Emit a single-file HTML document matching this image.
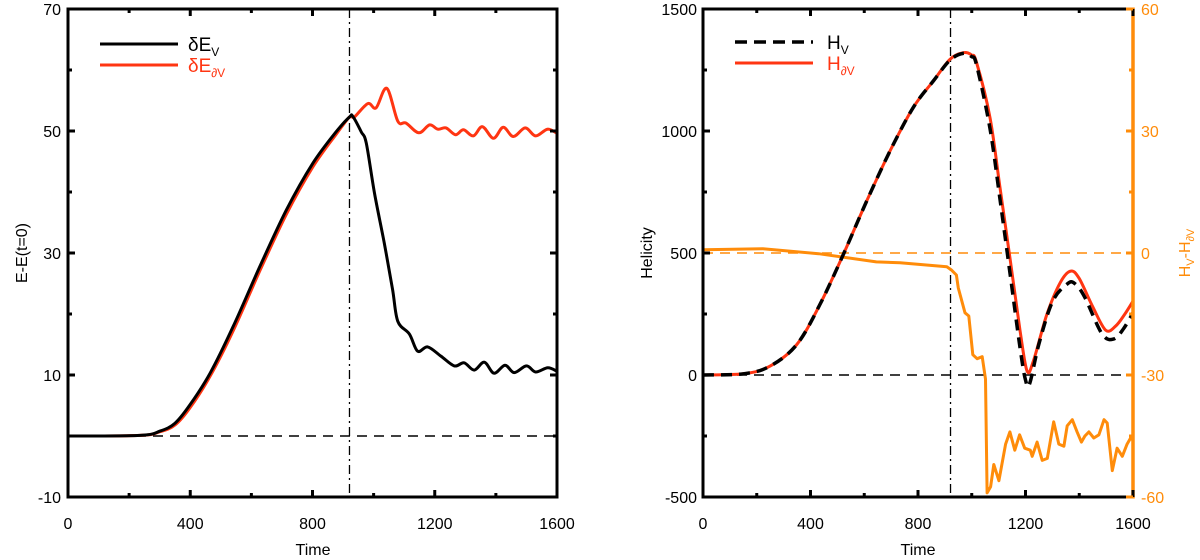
<!DOCTYPE html>
<html>
<head>
<meta charset="utf-8">
<style>
  html,body{margin:0;padding:0;background:#fff;}
  svg{display:block;font-family:"Liberation Sans",Arial,sans-serif;}
</style>
</head>
<body>
<svg id="chart" width="1200" height="560" viewBox="0 0 1200 560"></svg>
<script>
// ---------- Left panel data ----------
const energyTimesV = [0,235,301,350,399,465,540,627,714,801,878,921,932,959,976,1003,1035,1062,1079,1117,1144,1177,1220,1264,1296,1329,1362,1394,1430,1460,1500,1530,1570,1600];
const energyV      = [0,0.1,0.8,2.1,5.1,10.3,17.9,27.7,37.0,44.7,49.9,52.3,52.4,49.9,48,39.8,31.6,24,18.8,16.7,13.9,14.6,13.1,11.5,12,10.8,12.1,10.3,11.6,10.4,11.5,10.5,11.2,10.6];
const energyTimesDV = [0,235,301,350,399,465,540,627,714,801,878,921,937,981,1008,1043,1079,1106,1148,1183,1210,1237,1268,1294,1326,1356,1392,1424,1457,1496,1530,1569,1600];
const energyDV      = [0,0.1,0.7,1.8,4.6,9.8,17.2,27.0,36.3,44.1,49.5,52.3,52.3,54.5,53.8,57.0,51.6,51.3,49.7,51,50.3,50.5,49.4,50.2,49.2,50.7,48.8,50.6,49.1,50.5,49.2,50.3,49.6];
const leftYTicks = [-10,10,30,50,70];
const xTicks = [0,400,800,1200,1600];
const eventTime = 921;

// ---------- Right panel data ----------
const helTimesV = [0,150,249,349,435,522,609,696,782,857,919,968,999,1018,1068,1105,1142,1180,1200,1215,1250,1300,1355,1383,1420,1485,1529,1565,1600];
const helV      = [0,5,36,125,289,494,713,918,1096,1205,1290,1318,1305,1270,1010,720,420,110,-20,-37,127,300,373,375,320,168,148,190,255];
const helTimesDV = [0,150,249,349,435,522,609,696,782,857,919,968,999,1018,1068,1105,1142,1180,1206,1230,1280,1330,1368,1400,1450,1498,1535,1570,1600];
const helDV      = [0,5,36,125,289,494,713,918,1096,1205,1294,1321,1312,1280,1055,768,481,180,16,60,250,380,426,395,280,184,200,250,303];
const diffTimes = [0,223,430,645,733,907,923,943,950,975,989,1004,1020,1039,1051,1057,1070,1082,1101,1126,1142,1160,1178,1197,1218,1225,1243,1262,1281,1305,1324,1343,1355,1374,1392,1408,1421,1436,1454,1473,1492,1504,1523,1541,1560,1578,1591,1600];
const diffValues = [0.8,1.05,-0.16,-2.2,-2.4,-3.4,-4.1,-5.4,-8.6,-14.7,-15.5,-25,-26,-25.5,-31,-59,-57.5,-52,-56,-47,-44,-48.5,-44.7,-48,-48.5,-50,-46.5,-51,-50.5,-41.5,-47,-47.5,-42.5,-41,-44,-46.5,-45,-44,-45.5,-44.7,-41,-41.8,-53.5,-48,-50,-47,-45.5,-46];
const helYTicks = [-500,0,500,1000,1500];
const diffYTicks = [-60,-30,0,30,60];

const NS = "http://www.w3.org/2000/svg";
const svg = document.getElementById("chart");
function mk(tag, attrs, parent){
  const e = document.createElementNS(NS, tag);
  for (const k in attrs) e.setAttribute(k, attrs[k]);
  (parent||svg).appendChild(e);
  return e;
}
const RED = "#ff3512", ORANGE = "#ff8c0a";

const L = {x0:68, x1:557, y0:9, y1:497};
const lx = t => L.x0 + (t/1600)*(L.x1-L.x0);
const ly = v => L.y1 - ((v+10)/80)*(L.y1-L.y0);
const R = {x0:703, x1:1133, y0:9, y1:497};
const rx = t => R.x0 + (t/1600)*(R.x1-R.x0);
const ry = v => R.y1 - ((v+500)/2000)*(R.y1-R.y0);
const ry2 = v => R.y1 - ((v+60)/120)*(R.y1-R.y0);

function pathFrom(ts, vs, fx, fy){
  return ts.map((t,i)=>(i?"L":"M")+fx(t).toFixed(1)+","+fy(vs[i]).toFixed(1)).join(" ");
}
function smoothPath(ts, vs, fx, fy){
  const p = ts.map((t,i)=>[fx(t), fy(vs[i])]);
  let d = "M"+p[0][0].toFixed(1)+","+p[0][1].toFixed(1);
  for (let i=0;i<p.length-1;i++){
    const p0 = p[i-1]||p[i], p1=p[i], p2=p[i+1], p3=p[i+2]||p2;
    const c1 = [p1[0]+(p2[0]-p0[0])/6, p1[1]+(p2[1]-p0[1])/6];
    const c2 = [p2[0]-(p3[0]-p1[0])/6, p2[1]-(p3[1]-p1[1])/6];
    d += " C"+c1.map(v=>v.toFixed(1)).join(",")+" "+c2.map(v=>v.toFixed(1)).join(",")+" "+p2.map(v=>v.toFixed(1)).join(",");
  }
  return d;
}

// ===== LEFT PANEL =====
const gL = mk("g", {});



let e = mk("line", {x1:L.x0, x2:L.x1, y1:ly(0), y2:ly(0), stroke:"#000", "stroke-width":1.5, "stroke-dasharray":"10,7"}, gL);


e = mk("line", {x1:lx(eventTime), x2:lx(eventTime), y1:L.y0, y2:L.y1, stroke:"#000", "stroke-width":1.3, "stroke-dasharray":"9,4,2,4"}, gL);



e = mk("path", {d:smoothPath(energyTimesDV, energyDV, lx, ly), fill:"none", stroke:RED, "stroke-width":3, "stroke-linejoin":"round"}, gL);


e = mk("path", {d:smoothPath(energyTimesV, energyV, lx, ly), fill:"none", stroke:"#000", "stroke-width":3, "stroke-linejoin":"round"}, gL);



e = mk("rect", {x:L.x0, y:L.y0, width:L.x1-L.x0, height:L.y1-L.y0, fill:"none", stroke:"#000", "stroke-width":3}, gL);


for (let t=0; t<=1600; t+=200){
  const len = (t%400===0)?7:4;
  mk("line",{x1:lx(t),x2:lx(t),y1:L.y1,y2:L.y1-len,stroke:"#000","stroke-width":3},gL);
  mk("line",{x1:lx(t),x2:lx(t),y1:L.y0,y2:L.y0+len,stroke:"#000","stroke-width":3},gL);
}
xTicks.forEach(t=>{
  const tx = mk("text",{x:lx(t),y:529,"text-anchor":"middle","font-size":16,fill:"#000"},gL);
  tx.textContent = t;
  
  
});
for (let v=-10; v<=70; v+=10){
  const len = ((v+10)%20===0)?7:4;
  mk("line",{x1:L.x0,x2:L.x0+len,y1:ly(v),y2:ly(v),stroke:"#000","stroke-width":3},gL);
  mk("line",{x1:L.x1,x2:L.x1-len,y1:ly(v),y2:ly(v),stroke:"#000","stroke-width":3},gL);
}
leftYTicks.forEach(v=>{
  const tx = mk("text",{x:61,y:ly(v)+6,"text-anchor":"end","font-size":16,fill:"#000"},gL);
  tx.textContent = v;
  
  
});
e = mk("text",{x:313,y:555,"text-anchor":"middle","font-size":16},gL);
e.textContent = "Time";


e = mk("text",{x:0,y:0,"text-anchor":"middle","font-size":16,transform:"translate(27,253) rotate(-90)"},gL);
e.textContent = "E-E(t=0)";



const lgL = mk("g",{},gL);


mk("line",{x1:100,x2:178,y1:44,y2:44,stroke:"#000","stroke-width":3},lgL);
e = mk("text",{x:188,y:51,"font-size":19,fill:"#000"},lgL);
e.innerHTML = 'δE<tspan font-size="12" dy="5">V</tspan>';


mk("line",{x1:100,x2:178,y1:65,y2:65,stroke:RED,"stroke-width":3},lgL);
e = mk("text",{x:188,y:72,"font-size":19,fill:RED},lgL);
e.innerHTML = 'δE<tspan font-size="12" dy="5">∂V</tspan>';



// ===== RIGHT PANEL =====
const gR = mk("g", {});



e = mk("line",{x1:R.x0,x2:R.x1,y1:ry(0),y2:ry(0),stroke:"#000","stroke-width":1.5,"stroke-dasharray":"10,7"},gR);


e = mk("line",{x1:R.x0,x2:R.x1,y1:ry2(0),y2:ry2(0),stroke:ORANGE,"stroke-width":1.5,"stroke-dasharray":"10,7"},gR);


e = mk("line",{x1:rx(eventTime),x2:rx(eventTime),y1:R.y0,y2:R.y1,stroke:"#000","stroke-width":1.3,"stroke-dasharray":"9,4,2,4"},gR);



e = mk("path",{d:pathFrom(diffTimes, diffValues, rx, ry2),fill:"none",stroke:ORANGE,"stroke-width":3,"stroke-linejoin":"round"},gR);


e = mk("path",{d:smoothPath(helTimesDV, helDV, rx, ry),fill:"none",stroke:RED,"stroke-width":3,"stroke-linejoin":"round"},gR);


e = mk("path",{d:smoothPath(helTimesV, helV, rx, ry),fill:"none",stroke:"#000","stroke-width":3.5,"stroke-dasharray":"11,7","stroke-linejoin":"round"},gR);



mk("line",{x1:R.x0,x2:R.x1,y1:R.y0,y2:R.y0,stroke:"#000","stroke-width":3},gR);
mk("line",{x1:R.x0,x2:R.x1,y1:R.y1,y2:R.y1,stroke:"#000","stroke-width":3},gR);
mk("line",{x1:R.x0,x2:R.x0,y1:R.y0-1.5,y2:R.y1+1.5,stroke:"#000","stroke-width":3},gR);
e = mk("line",{x1:R.x1,x2:R.x1,y1:R.y0-1.5,y2:R.y1+1.5,stroke:ORANGE,"stroke-width":3.5},gR);


for (let t=0; t<=1600; t+=200){
  const len = (t%400===0)?7:4;
  mk("line",{x1:rx(t),x2:rx(t),y1:R.y1,y2:R.y1-len,stroke:"#000","stroke-width":3},gR);
  mk("line",{x1:rx(t),x2:rx(t),y1:R.y0,y2:R.y0+len,stroke:"#000","stroke-width":3},gR);
}
xTicks.forEach(t=>{
  const tx = mk("text",{x:rx(t),y:529,"text-anchor":"middle","font-size":16,fill:"#000"},gR);
  tx.textContent = t;
  
  
});
for (let v=-500; v<=1500; v+=250){
  const len = (v%500===0)?7:4;
  mk("line",{x1:R.x0,x2:R.x0+len,y1:ry(v),y2:ry(v),stroke:"#000","stroke-width":3},gR);
}
helYTicks.forEach(v=>{
  const tx = mk("text",{x:697,y:ry(v)+6,"text-anchor":"end","font-size":16,fill:"#000"},gR);
  tx.textContent = v;
  
  
});
for (let v=-60; v<=60; v+=15){
  const len = (v%30===0)?7:4;
  mk("line",{x1:R.x1,x2:R.x1-len,y1:ry2(v),y2:ry2(v),stroke:ORANGE,"stroke-width":3},gR);
}
diffYTicks.forEach(v=>{
  const tx = mk("text",{x:1141,y:ry2(v)+6,"text-anchor":"start","font-size":16,fill:ORANGE},gR);
  tx.textContent = v;
  
  
});
e = mk("text",{x:918,y:555,"text-anchor":"middle","font-size":16},gR);
e.textContent = "Time";


e = mk("text",{x:0,y:0,"text-anchor":"middle","font-size":16,transform:"translate(652,253) rotate(-90)"},gR);
e.textContent = "Helicity";


e = mk("text",{x:0,y:0,"text-anchor":"middle","font-size":16,fill:ORANGE,transform:"translate(1190,253) rotate(-90)"},gR);
e.innerHTML = 'H<tspan font-size="11" dy="4">V</tspan><tspan dy="-4">-H</tspan><tspan font-size="11" dy="4">∂V</tspan>';



const lgR = mk("g",{},gR);


mk("line",{x1:735,x2:813,y1:42,y2:42,stroke:"#000","stroke-width":3.5,"stroke-dasharray":"12,7"},lgR);
e = mk("text",{x:827,y:49,"font-size":19,fill:"#000"},lgR);
e.innerHTML = 'H<tspan font-size="12" dy="5">V</tspan>';


mk("line",{x1:735,x2:813,y1:63,y2:63,stroke:RED,"stroke-width":3},lgR);
e = mk("text",{x:827,y:70,"font-size":19,fill:RED},lgR);
e.innerHTML = 'H<tspan font-size="12" dy="5">∂V</tspan>';


</script>
</body>
</html>
